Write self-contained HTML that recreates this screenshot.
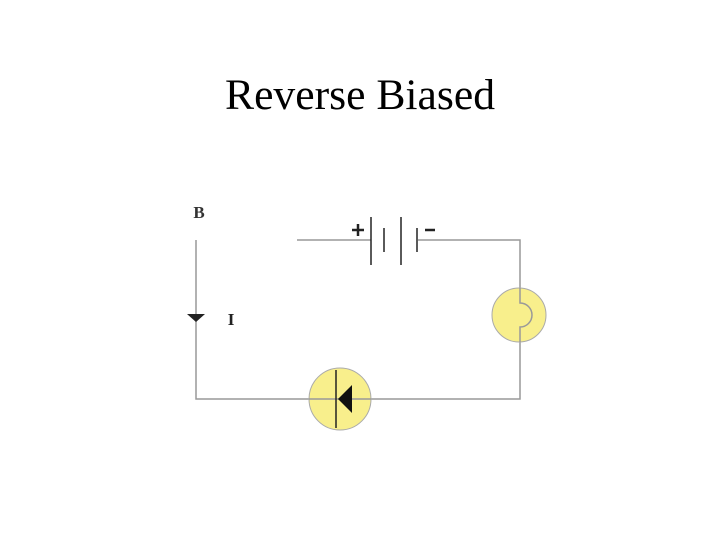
<!DOCTYPE html>
<html><head><style>body{margin:0;background:#fff;width:720px;height:540px;overflow:hidden}</style></head>
<body>
<svg width="720" height="540" xmlns="http://www.w3.org/2000/svg">
<text x="360" y="109" font-family="Liberation Serif, serif" font-size="43" text-anchor="middle" textLength="270" lengthAdjust="spacingAndGlyphs">Reverse Biased</text>
<text x="199" y="218" font-family="Liberation Serif, serif" font-weight="bold" font-size="17" fill="#333" text-anchor="middle">B</text>
<text x="231" y="325" font-family="Liberation Serif, serif" font-weight="bold" font-size="17" fill="#222" text-anchor="middle">I</text>
<g stroke="#999" stroke-width="1.5" fill="none">
<path d="M196 240 V399 H520 V240 H418"/>
<path d="M297 240 H371"/>
</g>
<g stroke="#222" stroke-width="1.5">
<line x1="371" y1="217" x2="371" y2="265"/>
<line x1="384" y1="228" x2="384" y2="252"/>
<line x1="401" y1="217" x2="401" y2="265"/>
<line x1="417" y1="228" x2="417" y2="252"/>
<line x1="352" y1="230" x2="364" y2="230" stroke-width="2.5"/>
<line x1="358" y1="224" x2="358" y2="236" stroke-width="2.5"/>
<line x1="425" y1="230" x2="435" y2="230" stroke-width="2.5"/>
</g>
<path d="M187 314 L205 314 L196 322 Z" fill="#222"/>
<circle cx="519" cy="315" r="27" fill="#f8ef8c" stroke="#aaa" stroke-width="1"/>
<path d="M520 288 V303 A12 12 0 0 1 520 327 V342" stroke="#999" stroke-width="1.5" fill="none"/>
<circle cx="340" cy="399" r="31" fill="#f8ef8c" stroke="#aaa" stroke-width="1"/>
<line x1="309" y1="399" x2="371" y2="399" stroke="#999" stroke-width="1.5"/>
<line x1="336" y1="370" x2="336" y2="428" stroke="#222" stroke-width="1.5"/>
<path d="M338 399 L352 385 L352 413 Z" fill="#111"/>
</svg>
</body></html>
